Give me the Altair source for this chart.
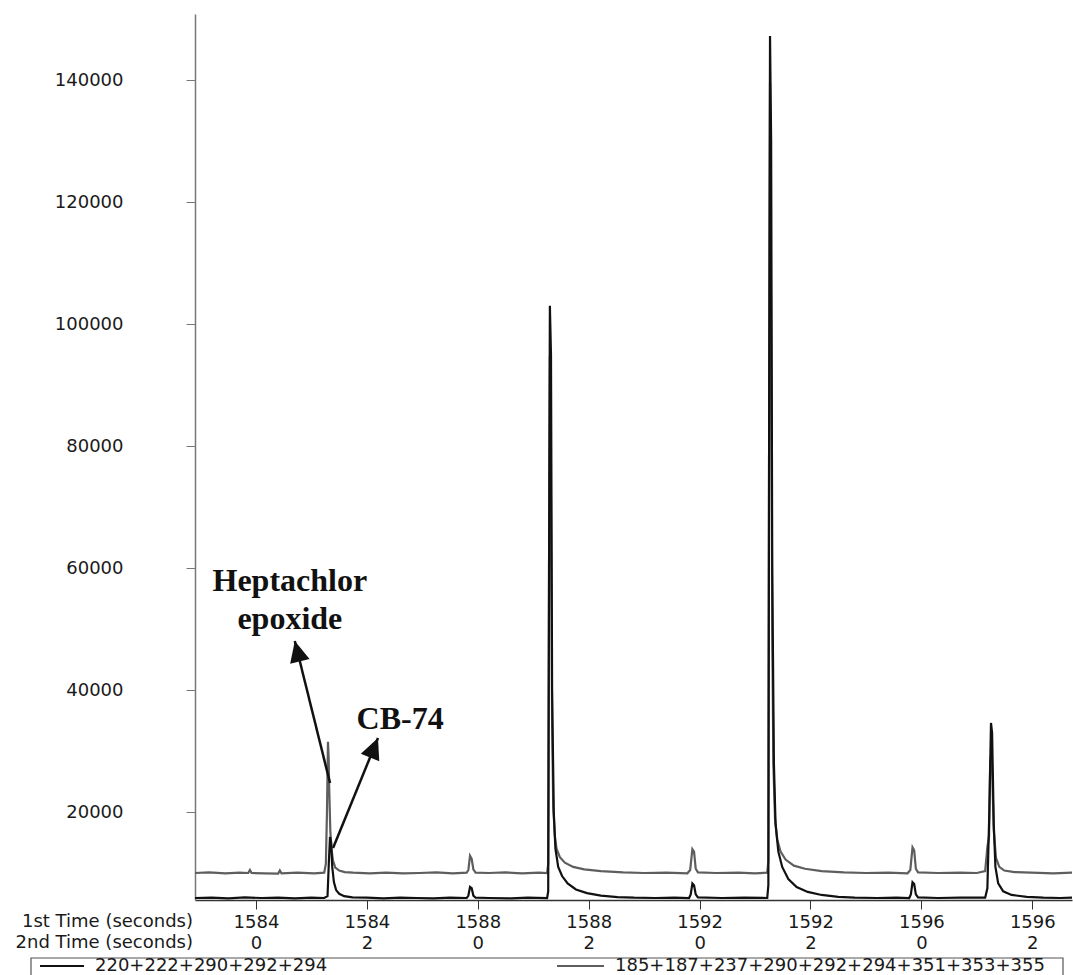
import math
import altair as alt
import pandas as pd

# Axis tick labels: first-dimension time and second-dimension time
first_time = [1584, 1584, 1588, 1588, 1592, 1592, 1596, 1596]
second_time = [0, 2, 0, 2, 0, 2, 0, 2]
row_title_lines = ["1st Time (seconds)", "2nd Time (seconds)"]

black_name = "220+222+290+292+294"
gray_name = "185+187+237+290+292+294+351+353+355"

# Extracted ion trace 220+222+290+292+294 (time in s, intensity)
black_t = [1582.90, 1583.2, 1583.5, 1583.8, 1584.1, 1584.4, 1584.7, 1585.0, 1585.23,
           1585.29, 1585.315, 1585.335, 1585.355, 1585.375, 1585.405, 1585.445, 1585.50, 1585.59,
           1585.74, 1586.0, 1586.3, 1586.6, 1586.9, 1587.2, 1587.5, 1587.8,
           1587.83, 1587.86, 1587.89, 1587.92, 1587.96, 1588.2, 1588.6, 1588.9, 1589.25,
           1589.27, 1589.285, 1589.30, 1589.32, 1589.34, 1589.37, 1589.40, 1589.45, 1589.52,
           1589.62, 1589.77, 1589.97, 1590.22, 1590.52, 1590.82, 1591.2, 1591.55, 1591.81,
           1591.84, 1591.87, 1591.90, 1591.93, 1591.97, 1592.4, 1592.8, 1593.22,
           1593.24, 1593.255, 1593.27, 1593.29, 1593.31, 1593.34, 1593.37, 1593.42, 1593.49,
           1593.6, 1593.75, 1593.95, 1594.2, 1594.5, 1594.8, 1595.2, 1595.55, 1595.78,
           1595.81, 1595.84, 1595.87, 1595.90, 1595.94, 1596.3, 1596.7, 1597.15,
           1597.19, 1597.225, 1597.255, 1597.275, 1597.305, 1597.335, 1597.385, 1597.475, 1597.625,
           1597.9, 1598.2, 1598.5, 1598.72]
black_v = [5900, 5950, 5850, 6000, 5900, 5950, 5850, 5950, 5900,
           6200, 12000, 15900, 15000, 11000, 8500, 7200, 6600, 6200,
           6000, 5950, 5850, 5950, 5900, 5850, 5950, 5900,
           6300, 7700, 7500, 6300, 5950, 5900, 5850, 5950, 5900,
           7000, 60000, 103000, 95000, 40000, 20000, 14000, 11000, 9500,
           8300, 7300, 6700, 6300, 6050, 5950, 5900, 5950, 5900,
           6500, 8300, 8000, 6500, 6000, 5900, 5950, 5900,
           8000, 90000, 147200, 130000, 60000, 28000, 18000, 13500, 11000,
           9000, 7700, 6900, 6400, 6100, 5950, 5900, 5950, 5900,
           6500, 8500, 8200, 6500, 6000, 5900, 5950, 5950,
           7500, 20000, 34600, 33000, 18000, 11000, 8300, 7000, 6400,
           6100, 5950, 5900, 5950]

# Extracted ion trace 185+187+237+290+292+294+351+353+355
gray_t = [1582.90, 1583.15, 1583.45, 1583.7, 1583.86, 1583.89, 1583.92, 1584.15, 1584.40,
          1584.43, 1584.46, 1584.75, 1585.05, 1585.23,
          1585.26, 1585.28, 1585.298, 1585.31, 1585.32, 1585.34, 1585.36, 1585.39, 1585.43,
          1585.50, 1585.60, 1585.75, 1586.05, 1586.35, 1586.65, 1586.95, 1587.25, 1587.55, 1587.8,
          1587.83, 1587.86, 1587.89, 1587.92, 1587.96, 1588.2, 1588.5, 1588.8, 1589.1, 1589.25,
          1589.27, 1589.285, 1589.30, 1589.32, 1589.34, 1589.36, 1589.39, 1589.42, 1589.48,
          1589.57, 1589.72, 1589.92, 1590.22, 1590.62, 1591.0, 1591.4, 1591.78,
          1591.83, 1591.87, 1591.90, 1591.93, 1591.97, 1592.3, 1592.7, 1593.0, 1593.22,
          1593.24, 1593.255, 1593.27, 1593.29, 1593.31, 1593.33, 1593.36, 1593.40, 1593.46,
          1593.55, 1593.7, 1593.9, 1594.2, 1594.6, 1595.0, 1595.4, 1595.75,
          1595.80, 1595.84, 1595.87, 1595.90, 1595.94, 1596.3, 1596.7, 1597.0, 1597.15,
          1597.19, 1597.22, 1597.24, 1597.255, 1597.275, 1597.305, 1597.345, 1597.405, 1597.495,
          1597.68, 1597.98, 1598.38, 1598.72]
gray_v = [10000, 10100, 9950, 10050, 10000, 10500, 10000, 9950, 9900,
          10400, 9950, 10050, 9950, 10050,
          11500, 20000, 31500, 29000, 24000, 17000, 14000, 12000, 10900,
          10400, 10150, 10050, 9950, 10050, 9950, 10000, 10100, 9950, 10050,
          10500, 12800, 12300, 10600, 10050, 10000, 10100, 9950, 10050, 10000,
          11500, 60000, 94700, 70000, 35000, 21000, 16000, 14000, 12600,
          11700, 11000, 10600, 10300, 10100, 10000, 10050, 9950,
          10500, 13900, 13500, 10700, 10100, 10000, 10050, 9950, 10050,
          12000, 90000, 139500, 100000, 50000, 28000, 19000, 15500, 13500,
          12200, 11200, 10700, 10300, 10100, 10000, 10050, 9950,
          10500, 14200, 13700, 10700, 10100, 10000, 10050, 10000, 10300,
          14300, 16000, 28000, 29000, 27000, 17000, 12500, 11000, 10400,
          10150, 10050, 9950, 10050]

# Annotated compounds: label lines, label anchor, arrow start and arrow tip (data units)
ann_lines = ["Heptachlor", "epoxide", "CB-74"]
ann_line_t = [1584.61, 1584.61, 1586.60]
ann_line_v = [57900, 51650, 35250]
arrow_names = ["Heptachlor epoxide", "CB-74"]
arrow_t0 = [1585.335, 1585.39]
arrow_v0 = [24750, 14100]
arrow_t1 = [1584.70, 1586.20]
arrow_v1 = [48030, 32130]

T_MIN, T_MAX = 1582.900, 1598.716
V_MIN, V_MAX = 5574, 150820
W, H = 877, 886
FONT = "DejaVu Sans"
TXT = "#1a1a1a"
TICK, LABEL_PAD, LINE_H = 9, 4, 21

black_df = pd.DataFrame({"t": black_t, "v": black_v, "series": black_name})
gray_df = pd.DataFrame({"t": gray_t, "v": gray_v, "series": gray_name})
tick_values = [f + s for f, s in zip(first_time, second_time)]

xscale = alt.Scale(domain=[T_MIN, T_MAX], nice=False, zero=False)
yscale = alt.Scale(domain=[V_MIN, V_MAX], nice=False, zero=False)

x_axis = alt.Axis(
    values=tick_values,
    labelExpr="[format(floor(datum.value/4)*4, 'd'), format(datum.value - floor(datum.value/4)*4, 'd')]",
    title=None, grid=False, tickSize=TICK, labelPadding=LABEL_PAD, labelLineHeight=LINE_H,
    labelFont=FONT, labelFontSize=18, labelColor=TXT, domainColor="#333333",
    tickColor="#333333", domainWidth=1.5, labelFlush=False, labelOverlap=False,
    labelBaseline="top",
)
y_axis = alt.Axis(
    values=[20000, 40000, 60000, 80000, 100000, 120000, 140000], format="d",
    title=None, grid=False, tickSize=9, labelPadding=63,
    labelFont=FONT, labelFontSize=18, labelColor=TXT, domainColor="#777777",
    tickColor="#777777", domainWidth=1.5,
)

gray_line = alt.Chart(gray_df).mark_line(color="#5e5e5e", strokeWidth=2.2, clip=True).encode(
    x=alt.X("t:Q", scale=xscale, axis=x_axis),
    y=alt.Y("v:Q", scale=yscale, axis=y_axis),
)
black_line = alt.Chart(black_df).mark_line(color="#111111", strokeWidth=2.2, clip=True).encode(
    x=alt.X("t:Q", scale=xscale),
    y=alt.Y("v:Q", scale=yscale),
)

# arrow geometry; head angle follows the on-screen direction of each arrow
sx = W / (T_MAX - T_MIN)
sy = H / (V_MAX - V_MIN)
angles = []
for a0, b0, a1, b1 in zip(arrow_t0, arrow_v0, arrow_t1, arrow_v1):
    dx = (a1 - a0) * sx
    dy = -(b1 - b0) * sy
    angles.append(math.degrees(math.atan2(dx, -dy)) % 360)
arrow_df = pd.DataFrame({"name": arrow_names, "t0": arrow_t0, "v0": arrow_v0,
                         "t1": arrow_t1, "v1": arrow_v1, "ang": angles})

arrow_lines = alt.Chart(arrow_df).mark_rule(color="#111111", strokeWidth=2.5).encode(
    x=alt.X("t0:Q", scale=xscale), y=alt.Y("v0:Q", scale=yscale),
    x2="t1:Q", y2="v1:Q",
)
arrow_heads = alt.Chart(arrow_df).mark_point(
    shape="M0,0 L0.95,2 L-0.95,2 Z", filled=True, size=441, color="#111111", opacity=1,
    strokeWidth=0,
).encode(
    x=alt.X("t1:Q", scale=xscale), y=alt.Y("v1:Q", scale=yscale),
    angle=alt.Angle("ang:Q", scale=None),
)

ann_df = pd.DataFrame({"label": ann_lines, "t": ann_line_t, "v": ann_line_v})
ann_text = alt.Chart(ann_df).mark_text(
    font="Liberation Serif", fontWeight="bold", fontSize=32, color="#111111",
    align="center", baseline="middle",
).encode(x=alt.X("t:Q", scale=xscale), y=alt.Y("v:Q", scale=yscale), text="label:N")

one = pd.DataFrame({"k": [0]})
# row captions sit on the same lines as the two-line tick labels
row_titles = alt.Chart(one).mark_text(
    font=FONT, fontSize=18, color=TXT, align="right", baseline="top", lineHeight=LINE_H,
).encode(
    x=alt.value(-2), y=alt.value(H + TICK + LABEL_PAD), text=alt.value(row_title_lines),
)

LEG_Y = 952
legend_box = alt.Chart(one).mark_rect(fill="white", stroke="#555555", strokeWidth=1.2).encode(
    x=alt.value(-164), x2=alt.value(868), y=alt.value(944), y2=alt.value(985),
)
legend_black_sym = alt.Chart(one).mark_rule(color="#111111", strokeWidth=2).encode(
    x=alt.value(-155), x2=alt.value(-111), y=alt.value(LEG_Y),
)
legend_gray_sym = alt.Chart(one).mark_rule(color="#5e5e5e", strokeWidth=2).encode(
    x=alt.value(362), x2=alt.value(409), y=alt.value(LEG_Y),
)
legend_black_txt = alt.Chart(black_df.head(1)).mark_text(
    font=FONT, fontSize=18, color=TXT, align="left", baseline="middle",
).encode(x=alt.value(-100), y=alt.value(LEG_Y), text="series:N")
legend_gray_txt = alt.Chart(gray_df.head(1)).mark_text(
    font=FONT, fontSize=18, color=TXT, align="left", baseline="middle",
).encode(x=alt.value(420), y=alt.value(LEG_Y), text="series:N")

chart = alt.layer(
    gray_line, black_line, arrow_lines, arrow_heads, ann_text, row_titles,
    legend_box, legend_black_sym, legend_gray_sym, legend_black_txt, legend_gray_txt,
).properties(
    width=W, height=H,
    autosize=alt.AutoSizeParams(type="none"),
    padding={"left": 195, "top": 14, "right": 1, "bottom": 75},
    background="white",
).configure_view(stroke=None)

chart.save("out.html", embed_options={"renderer": "svg", "actions": False})
